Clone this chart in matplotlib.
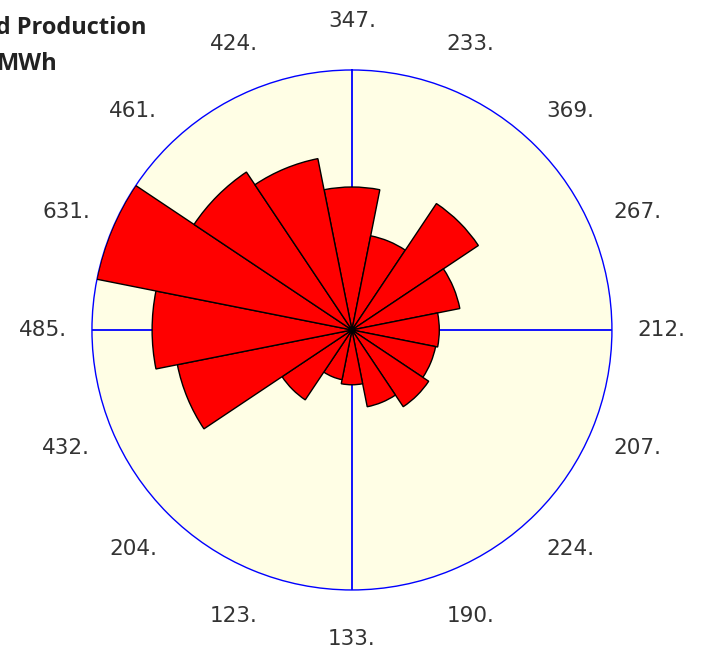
import numpy as np
import matplotlib.pyplot as plt

## datos: produccion por sector (N y en sentido horario)
sectores = ["N", "NNE", "NE", "ENE", "E", "ESE", "SE", "SSE",
            "S", "SSW", "SW", "WSW", "W", "WNW", "NW", "NNW"]
produccion = [347, 233, 369, 267, 212, 207, 224, 190,
              133, 123, 204, 432, 485, 631, 461, 424]
titulo1 = "Wind Production"
titulo2 = "MWh"

n = len(produccion)
ang = np.arange(n) * 2 * np.pi / n
rmax = max(produccion)

fig = plt.figure(figsize=(7.02, 6.57), dpi=100)
ax = fig.add_axes([0.131, 0.102, 0.7407, 0.7915], projection="polar")
ax.set_theta_zero_location("N")
ax.set_theta_direction(-1)
ax.set_facecolor("#FFFEE5")

ax.bar(ang, produccion, width=2 * np.pi / n, color="#FF0000",
       edgecolor="black", linewidth=1.0, zorder=3)

ax.set_ylim(0, rmax)
ax.set_yticks([])
ax.set_xticks(np.radians([0, 90, 180, 270]))
ax.set_xticklabels([])
ax.xaxis.grid(True, color="blue", linewidth=1.3)
ax.tick_params(axis="x", length=0)
ax.spines["polar"].set_color("blue")
ax.spines["polar"].set_linewidth(1.0)

## etiquetas con los valores
for a, v in zip(ang, produccion):
    ax.text(a, rmax * 1.19, f"{v}.", ha="center", va="center",
            fontsize=15.5, color="#333333", clip_on=False)

fig.text(147 / 702, 1 - 28 / 657, titulo1, ha="right", va="center",
         fontsize=17, fontweight="bold", family="Open Sans", color="#222222")
fig.text(-3 / 702, 1 - 64 / 657, titulo2, ha="left", va="center",
         fontsize=17, fontweight="bold", family="Open Sans", color="#222222")

plt.savefig("out.png", dpi=100)
